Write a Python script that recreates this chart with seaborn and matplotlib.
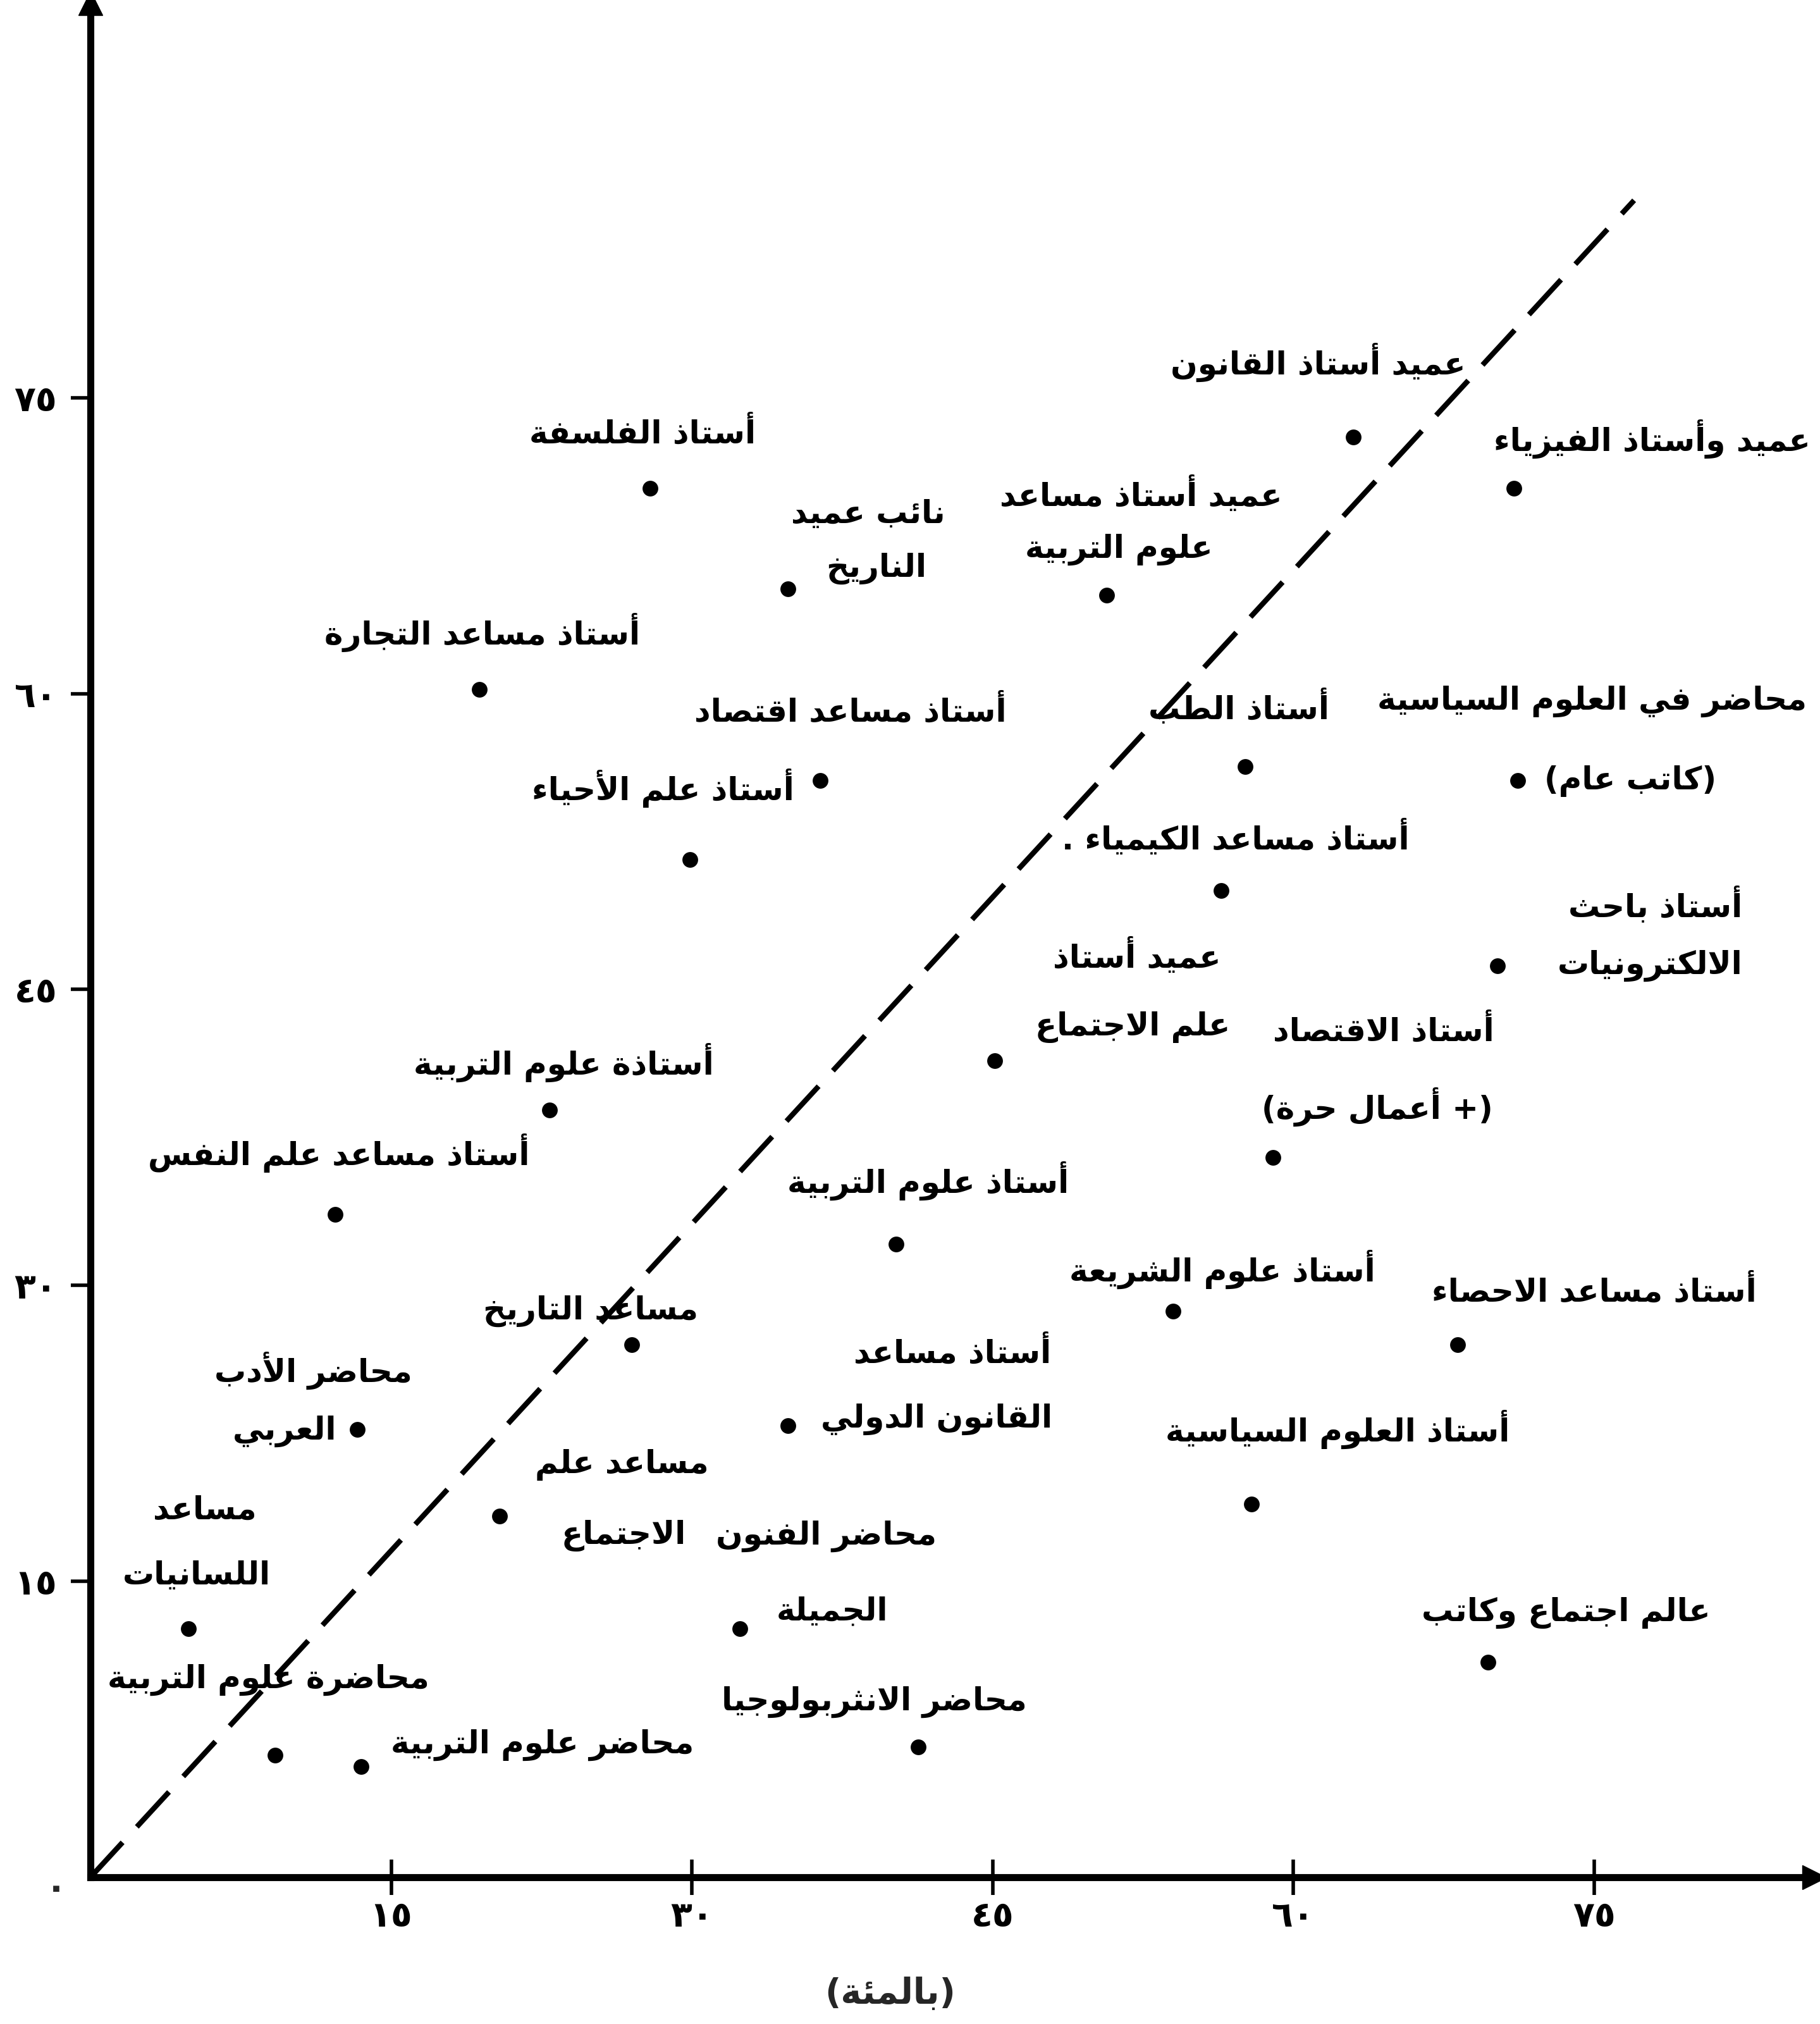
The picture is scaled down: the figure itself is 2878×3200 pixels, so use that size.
import matplotlib
matplotlib.use("Agg")
import matplotlib.pyplot as plt
import seaborn as sns
import pandas as pd

# --- data (percent) ---
titles = [
    "عميد أستاذ القانون",
    "عميد وأستاذ الفيزياء",
    "أستاذ الفلسفة",
    "نائب عميد\nالناريخ",
    "عميد أستاذ مساعد\nعلوم التربية",
    "أستاذ مساعد التجارة",
    "أستاذ مساعد اقتصاد",
    "أستاذ الطب",
    "محاضر في العلوم السياسية\n(كاتب عام)",
    "أستاذ علم الأحياء",
    "أستاذ مساعد الكيمياء .",
    "أستاذ باحث\nالالكترونيات",
    "عميد أستاذ\nعلم الاجتماع",
    "أستاذ الاقتصاد\n(+ أعمال حرة)",
    "أستاذة علوم التربية",
    "أستاذ مساعد علم النفس",
    "أستاذ علوم التربية",
    "أستاذ علوم الشريعة",
    "أستاذ مساعد الاحصاء",
    "مساعد التاريخ",
    "محاضر الأدب\nالعربي",
    "أستاذ مساعد\nالقانون الدولي",
    "أستاذ العلوم السياسية",
    "مساعد علم\nالاجتماع",
    "محاضر الفنون\nالجميلة",
    "مساعد\nاللسانيات",
    "عالم اجتماع وكاتب",
    "محاضر الانثربولوجيا",
    "محاضرة علوم التربية",
    "محاضر علوم التربية",
]
x_vals = [63.0, 71.0, 27.9, 34.8, 50.7, 19.4, 36.4, 57.6, 71.2, 29.9,
          56.4, 70.2, 45.1, 59.0, 22.9, 12.2, 40.2, 54.0, 68.2, 27.0,
          13.3, 34.8, 57.9, 20.4, 32.4, 4.9, 69.7, 41.3, 9.2, 13.5]
y_vals = [73.0, 70.4, 70.4, 65.3, 65.0, 60.2, 55.6, 56.3, 55.6, 51.6,
          50.0, 46.2, 41.4, 36.5, 38.9, 33.6, 32.1, 28.7, 27.0, 27.0,
          22.7, 22.9, 18.9, 18.3, 12.6, 12.6, 10.9, 6.6, 6.2, 5.6]

diag_x = [0, 77]
diag_y = [0, 85]

ticks = [15, 30, 45, 60, 75]
tick_labels = ["١٥", "٣٠", "٤٥", "٦٠", "٧٥"]
zero_label = "٠"
x_title = "(بالمئة)"

# --- label placement: (x per line, y of first line, alignment, line gap) ---
label_pos = [
    ((68.6,), 76.8, "right", 0), ((85.8,), 72.9, "right", 0), ((33.2,), 73.2, "right", 0),
    ((38.8, 39.2), 69.1, "center", 2.75), ((52.4, 51.3), 70.1, "center", 2.8),
    ((27.4,), 63.1, "right", 0), ((45.7,), 59.1, "right", 0), ((61.8,), 59.3, "right", 0),
    ((74.9, 76.8), 59.6, "center", 4.05), ((35.1,), 55.2, "right", 0),
    ((65.8,), 52.7, "right", 0), ((82.4, 82.4), 49.3, "right", 3.1),
    ((52.2, 52.0), 46.7, "center", 3.6), ((64.5, 64.2), 42.9, "center", 3.85),
    ((31.1,), 41.3, "right", 0), ((21.9,), 36.7, "right", 0), ((48.8,), 35.3, "right", 0),
    ((64.1,), 30.8, "right", 0), ((83.1,), 29.7, "right", 0), ((30.3,), 28.7, "right", 0),
    ((11.1, 9.7), 25.7, "center", 3.1), ((43.0, 42.2), 26.6, "center", 3.4),
    ((70.8,), 22.7, "right", 0), ((26.5, 26.6), 20.9, "center", 3.6),
    ((36.7, 37.0), 17.3, "center", 3.8), ((5.7, 5.3), 18.6, "center", 3.3),
    ((80.8,), 13.4, "right", 0), ((46.7,), 8.9, "right", 0), ((16.9,), 10.0, "right", 0),
    ((30.1,), 6.7, "right", 0),
]

# matplotlib does no Arabic shaping, so pick presentation forms by hand
FORMS = {
    "ء": (0xFE80, 1), "آ": (0xFE81, 2), "أ": (0xFE83, 2), "ؤ": (0xFE85, 2),
    "إ": (0xFE87, 2), "ئ": (0xFE89, 4), "ا": (0xFE8D, 2), "ب": (0xFE8F, 4),
    "ة": (0xFE93, 2), "ت": (0xFE95, 4), "ث": (0xFE99, 4), "ج": (0xFE9D, 4),
    "ح": (0xFEA1, 4), "خ": (0xFEA5, 4), "د": (0xFEA9, 2), "ذ": (0xFEAB, 2),
    "ر": (0xFEAD, 2), "ز": (0xFEAF, 2), "س": (0xFEB1, 4), "ش": (0xFEB5, 4),
    "ص": (0xFEB9, 4), "ض": (0xFEBD, 4), "ط": (0xFEC1, 4), "ظ": (0xFEC5, 4),
    "ع": (0xFEC9, 4), "غ": (0xFECD, 4), "ف": (0xFED1, 4), "ق": (0xFED5, 4),
    "ك": (0xFED9, 4), "ل": (0xFEDD, 4), "م": (0xFEE1, 4), "ن": (0xFEE5, 4),
    "ه": (0xFEE9, 4), "و": (0xFEED, 2), "ى": (0xFEEF, 2), "ي": (0xFEF1, 4),
}
LAM_ALEF = {"آ": 0xFEF5, "أ": 0xFEF7, "إ": 0xFEF9, "ا": 0xFEFB}
MIRROR = {"(": ")", ")": "("}


def shape(line):
    units = []
    i = 0
    while i < len(line):
        c = line[i]
        if c == "ل" and i + 1 < len(line) and line[i + 1] in LAM_ALEF:
            units.append(("LA", line[i + 1]))
            i += 2
        else:
            units.append((c, None))
            i += 1

    def joins(u):
        return u[0] == "LA" or (u[0] in FORMS and FORMS[u[0]][1] > 1)

    def joins_next(u):
        return u[0] in FORMS and FORMS[u[0]][1] == 4

    out = []
    for k, u in enumerate(units):
        prev = units[k - 1] if k > 0 else None
        nxt = units[k + 1] if k + 1 < len(units) else None
        p = prev is not None and joins_next(prev) and joins(u)
        if u[0] == "LA":
            out.append(chr(LAM_ALEF[u[1]] + (1 if p else 0)))
            continue
        if u[0] not in FORMS:
            out.append(MIRROR.get(u[0], u[0]))
            continue
        base, n = FORMS[u[0]]
        nx = n == 4 and nxt is not None and joins(nxt)
        if p and nx:
            off = 3
        elif p:
            off = 1 if n > 1 else 0
        elif nx:
            off = 2
        else:
            off = 0
        out.append(chr(base + off))
    return "".join(reversed(out))


df = pd.DataFrame({"x": x_vals, "y": y_vals})

sns.set_theme(style="white")
plt.rcParams["font.family"] = ["DejaVu Sans"]

fig = plt.figure(figsize=(28.78, 32), dpi=100)
ax = fig.add_axes([0.0497, 0.0725, 0.9473, 0.926])

sns.lineplot(x=diag_x, y=diag_y, ax=ax, color="black", lw=6,
             linestyle=(0, (9, 4)), dash_capstyle="butt")
sns.scatterplot(data=df, x="x", y="y", ax=ax, color="black", s=320,
                edgecolor="black", linewidth=0, zorder=5)

fs = 36
for text, (xs, ly, ha, gap) in zip(titles, label_pos):
    for j, part in enumerate(text.split("\n")):
        ax.text(xs[min(j, len(xs) - 1)], ly - j * gap, shape(part), ha=ha, va="center",
                fontsize=fs, fontweight="bold", color="black", clip_on=False)

ax.set_xlim(0, 86)
ax.set_ylim(0, 95)
ax.set_xticks(ticks)
ax.set_xticklabels(tick_labels, fontweight="bold")
ax.set_yticks(ticks)
ax.set_yticklabels(tick_labels, fontweight="bold")
ax.tick_params(axis="x", bottom=True, direction="inout", length=40, width=4, pad=6,
               labelsize=40, colors="black")
ax.tick_params(axis="y", left=True, direction="out", length=22, width=4, pad=16,
               labelsize=40, colors="black")
ax.set_xlabel("")
ax.set_ylabel("")

for side in ["top", "right"]:
    ax.spines[side].set_visible(False)
for side in ["left", "bottom"]:
    ax.spines[side].set_linewidth(8)
    ax.spines[side].set_color("black")

ax.plot(1, 0, ">", color="black", markersize=28, transform=ax.transAxes, clip_on=False)
ax.plot(0, 1, "^", color="black", markersize=28, transform=ax.transAxes, clip_on=False)

ax.text(-1.7, -0.6, zero_label, ha="center", va="center", fontsize=40,
        fontweight="bold", clip_on=False)
fig.text(0.489, 0.0147, shape(x_title), ha="center", va="center", fontsize=40,
         fontweight="bold")

fig.savefig("out.png", dpi=100, facecolor="white")
plt.close(fig)
